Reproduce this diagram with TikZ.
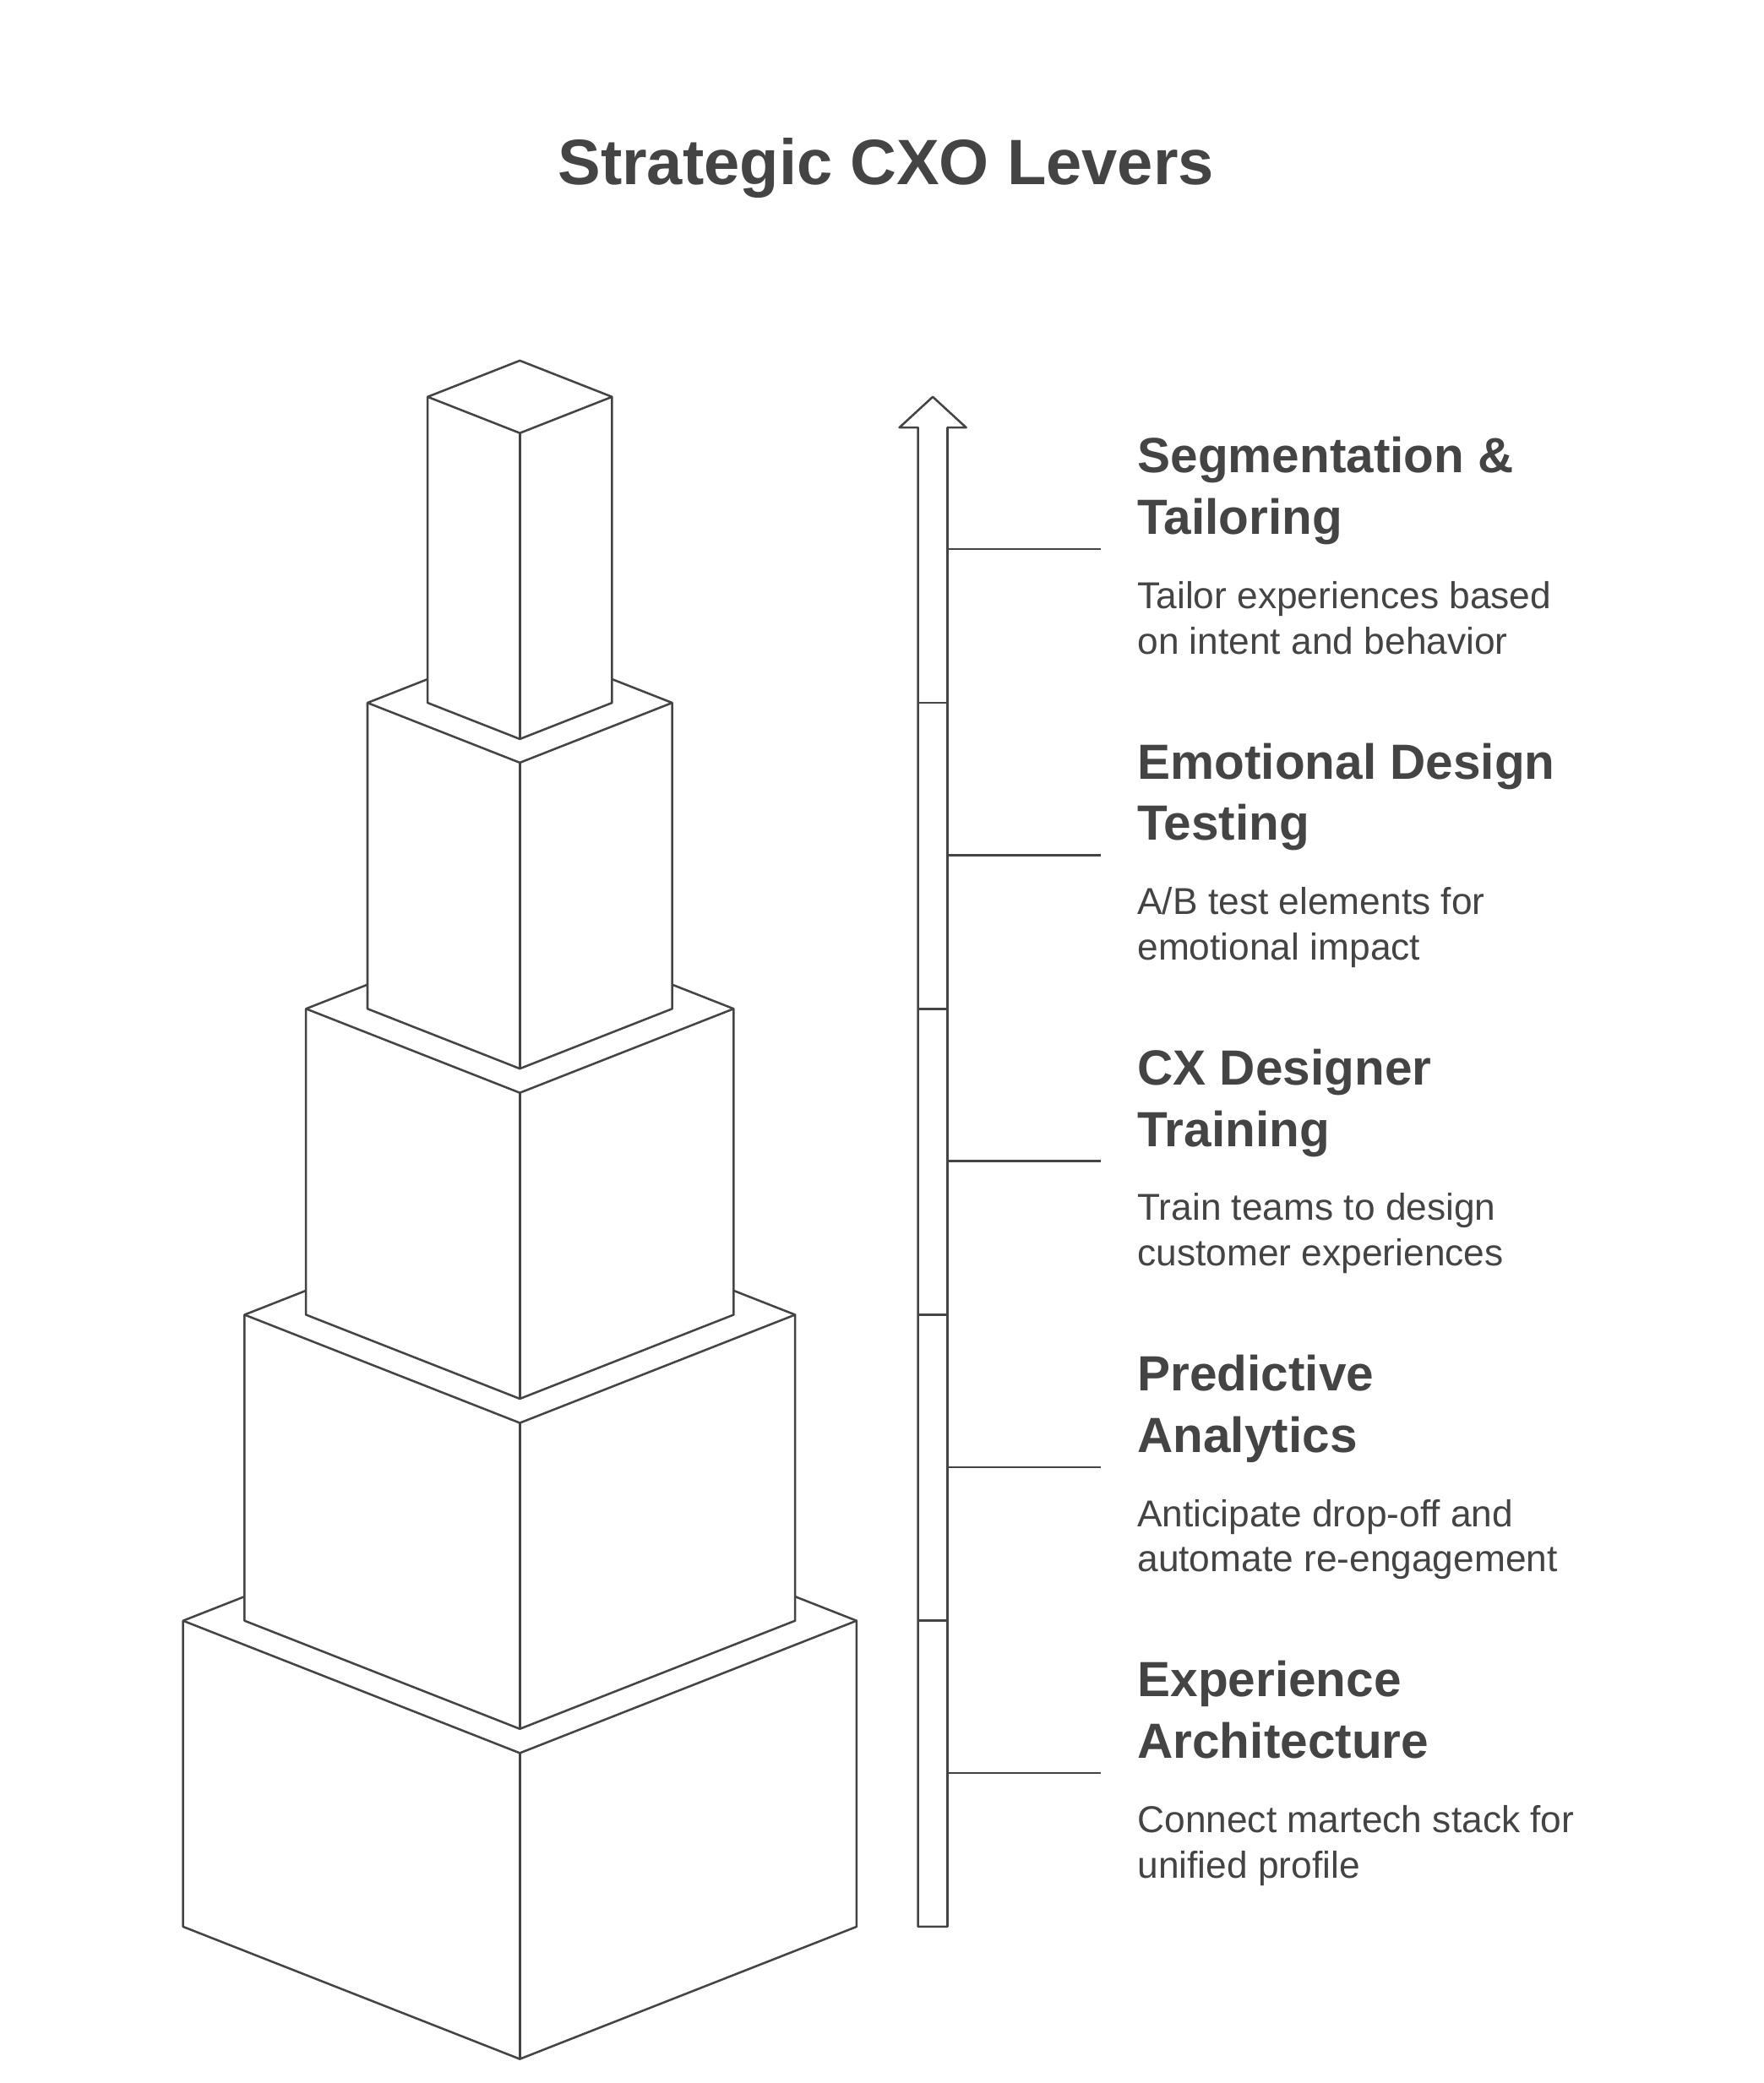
\documentclass[tikz,border=0pt]{standalone}
\usepackage{fontspec}
\setmainfont{Liberation Sans}
\definecolor{ink}{HTML}{444444}
\begin{document}
\begin{tikzpicture}[x=1pt,y=-1pt,
  box/.style={draw=ink,line width=1.6pt,fill=white,line join=round},
  ln/.style={draw=ink,line width=1.6pt},
  head/.style={anchor=north west,align=left,text=ink,font=\fontsize{37}{46}\selectfont\bfseries,inner sep=0pt},
  desc/.style={anchor=north west,align=left,text=ink,font=\fontsize{28}{34}\selectfont,inner sep=0pt}]
\useasboundingbox[fill=white] (0,0) rectangle (1320,1559);
\node[text=ink,font=\fontsize{48}{56}\selectfont\bfseries] (title) at (663,126) {Strategic CXO Levers};
\foreach \w/\t in {252/1213,206/984,160/755,114/526,69/297}{
  \pgfmathsetmacro\d{0.393*\w}
  \draw[box] (389-\w,\t) -- (389,\t-\d) -- (389+\w,\t) -- (389+\w,\t+229) -- (389,\t+\d+229) -- (389-\w,\t+229) -- cycle;
  \draw[ln,line join=round] (389-\w,\t) -- (389,\t+\d) -- (389+\w,\t);
  \draw[ln] (389,\t+\d) -- (389,\t+\d+229);
}
\draw[box] (687,1442) -- (687,320) -- (673,320) -- (698,297) -- (723,320) -- (709,320) -- (709,1442) -- cycle;
\foreach \y in {526,755,984,1213} \draw[ln] (687,\y) -- (709,\y);
\foreach \y/\h/\dd [count=\i] in {
  411/{Segmentation \&\\Tailoring}/{Tailor experiences based\\on intent and behavior},
  640/{Emotional Design\\Testing}/{A/B test elements for\\emotional impact},
  869/{CX Designer\\Training}/{Train teams to design\\customer experiences},
  1098/{Predictive\\Analytics}/{Anticipate drop-off and\\automate re-engagement},
  1327/{Experience\\Architecture}/{Connect martech stack for\\unified profile}}{
  \coordinate (c\i) at (824,\y);
  \draw[ln] (709,\y) -- (c\i);
  \node[head] (h\i) at (851,\y-84) {\h};
  \node[desc] (d\i) at (851,\y+24) {\dd};
}
\end{tikzpicture}
\end{document}
